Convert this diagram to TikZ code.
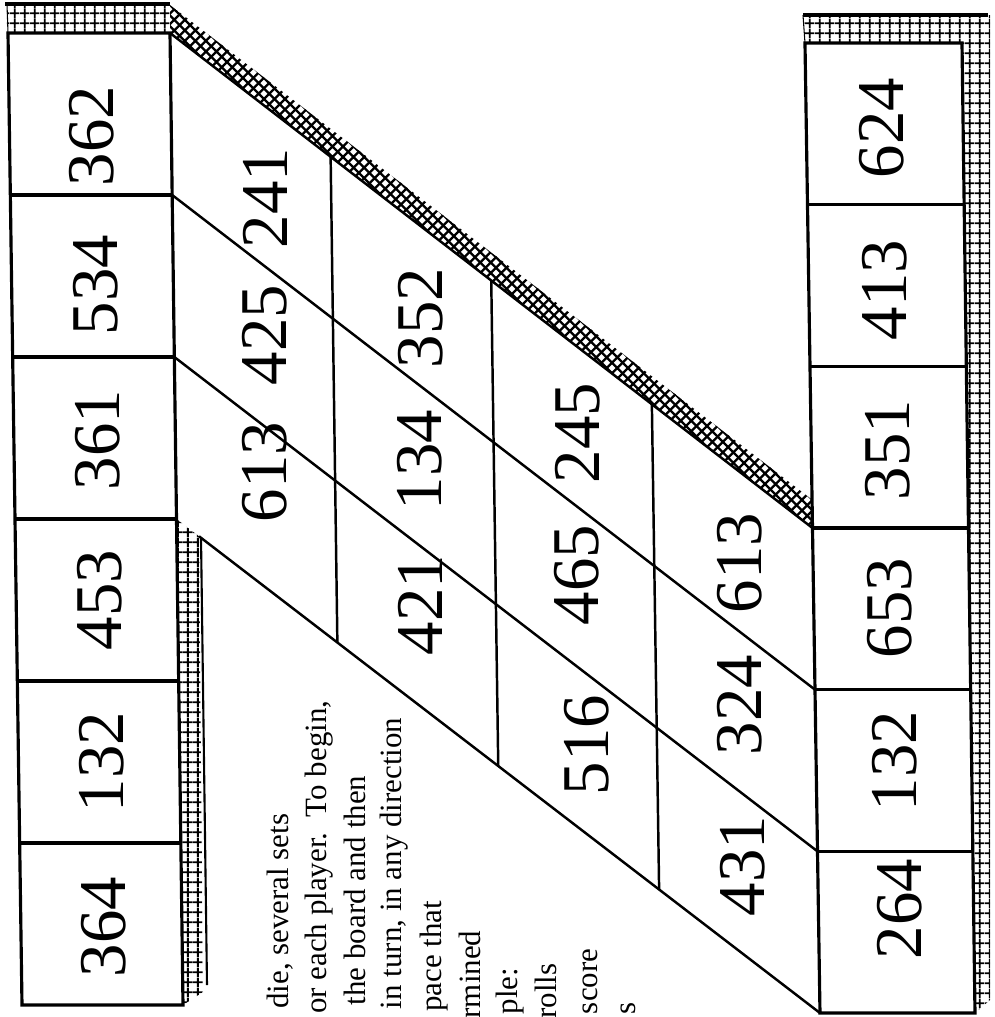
\documentclass[tikz,border=0pt]{standalone}
\usepackage{fontspec}
\setmainfont{Liberation Serif}
\usetikzlibrary{calc,patterns}

% hatchings of the board border
\pgfdeclarepatternformonly{boardgrid}{\pgfpointorigin}{\pgfqpoint{2.9pt}{2.9pt}}{\pgfqpoint{2.9pt}{2.9pt}}{
    \pgfsetlinewidth{0.6pt}
    \pgfpathmoveto{\pgfqpoint{0pt}{1.45pt}}\pgfpathlineto{\pgfqpoint{2.9pt}{1.45pt}}
    \pgfpathmoveto{\pgfqpoint{1.45pt}{0pt}}\pgfpathlineto{\pgfqpoint{1.45pt}{2.9pt}}
    \pgfusepath{stroke}}
\pgfdeclarepatternformonly{boardcross}{\pgfqpoint{-1pt}{-1pt}}{\pgfqpoint{4pt}{4pt}}{\pgfqpoint{3pt}{3pt}}{
    \pgfsetlinewidth{0.65pt}
    \pgfpathmoveto{\pgfqpoint{3.1pt}{0pt}}\pgfpathlineto{\pgfqpoint{0pt}{3.1pt}}
    \pgfpathmoveto{\pgfqpoint{0pt}{0pt}}\pgfpathlineto{\pgfqpoint{3.1pt}{3.1pt}}
    \pgfusepath{stroke}}

\begin{document}
\begin{tikzpicture}[x=0.01cm, y=-0.01cm,
    cell/.style={line width=0.9pt},
    split/.style={line width=0.7pt},
    num/.style={rotate=90, inner sep=0pt, font=\fontsize{19}{20}\selectfont},
    note/.style={rotate=90, anchor=base east, inner sep=0pt, font=\fontsize{8.8}{10}\selectfont}]
    \useasboundingbox (0,0) rectangle (995,1017);
    \clip (0,0) rectangle (995,1017);

    % --- Coordinates of the columns ---
    \coordinate (ltl) at (8,33);
    \coordinate (ltr) at (170,33);
    \coordinate (lbl) at (22,1005);
    \coordinate (lbr) at (183,1005);
    \coordinate (rtl) at (805,43);
    \coordinate (rtr) at (962,43);
    \coordinate (rbl) at (820,1013);
    \coordinate (rbr) at (975,1013);
    % middle part
    \coordinate (nw) at (ltr);
    \coordinate (sw) at ($(ltr)!0.5!(lbr)$);
    \coordinate (ne) at ($(rtl)!0.5!(rbl)$);
    \coordinate (se) at (rbl);
    \coordinate (sb) at ($(sw)!0.035!(se)$);

    % --- Hatched borders ---
    \fill[pattern=boardgrid] (7,5) rectangle (ltr);
    \draw[line width=1pt] (5,4) -- (170,4);
    \draw[line width=0.3pt] (7,4) -- (ltl);
    \fill[pattern=boardcross] (170,5) -- (812.5,500) -- (ne) -- (nw) -- cycle;
    \fill[pattern=boardgrid] (sw) -- (sb) -- (203,992) -- (lbr) -- cycle;
    \draw[line width=0.6pt] ($(sb)+(2,2)$) -- (207,985);
    \fill[pattern=boardgrid] (803,15) -- (990,15) -- (990,1000) -- (rbr) -- (rtr) -- (rtl) -- cycle;
    \draw[line width=1pt] (803,15) -- (988,15);
    \draw[line width=0.3pt] (803,15) -- (rtl);

    % --- Left column ---
    \draw[cell] (ltl) -- (ltr) -- (lbr) -- (lbl) -- cycle;
    \foreach \k in {1,...,5}
        \draw[cell] ($(ltl)!\k/6!(lbl)$) -- ($(ltr)!\k/6!(lbr)$);

    % --- Right column ---
    \draw[cell] (rtl) -- (rtr) -- (rbr) -- (rbl) -- cycle;
    \foreach \k in {1,...,5}
        \draw[cell] ($(rtl)!\k/6!(rbl)$) -- ($(rtr)!\k/6!(rbr)$);

    % --- Slanted middle part ---
    \draw[split] (nw) -- (ne);
    \draw[split] (sb) -- (se);
    \foreach \k in {1,2}
        \draw[split] ($(nw)!\k/3!(sw)$) -- ($(ne)!\k/3!(se)$);
    \foreach \k in {1,2,3}
        \draw[split] ($(nw)!\k/4!(ne)$) -- ($(sw)!\k/4!(se)$);

    % --- Numbers ---
    \foreach \t/\x/\y [count=\i] in {362/92/136, 534/96/285, 361/98/440,
            453/100/600, 132/102/762, 364/104/927,
            241/265/198, 425/265/335, 613/265/472,
            352/421/318, 134/420/460, 421/420/605,
            245/578/433, 465/577/575, 516/587/745,
            613/740/563, 324/740/705, 431/743/866,
            624/882/128, 413/885/290, 351/888/450,
            653/890/608, 132/895/761, 264/900/909}
        \node[num] (n\i) at (\x,\y) {\t};

    % --- Rules text (cut at the bottom) ---
    \node[note] (t1) at (288,813) {die, several sets};
    \node[note] (t2) at (327,700) {or each player.\ \ To begin,};
    \node[note] (t3) at (366,775) {the board and then};
    \node[note] (t4) at (402,717) {in turn, in any direction};
    \node[note] (t5) at (441,900) {pace that};
    \node[note] (t6) at (481,930) {rmined};
    \node[note] (t7) at (518,967) {ple:};
    \node[note] (t8) at (557,963) {rolls};
    \node[note] (t9) at (597,948) {score};
    \node[note] (t10) at (636,1002) {s};
\end{tikzpicture}
\end{document}
